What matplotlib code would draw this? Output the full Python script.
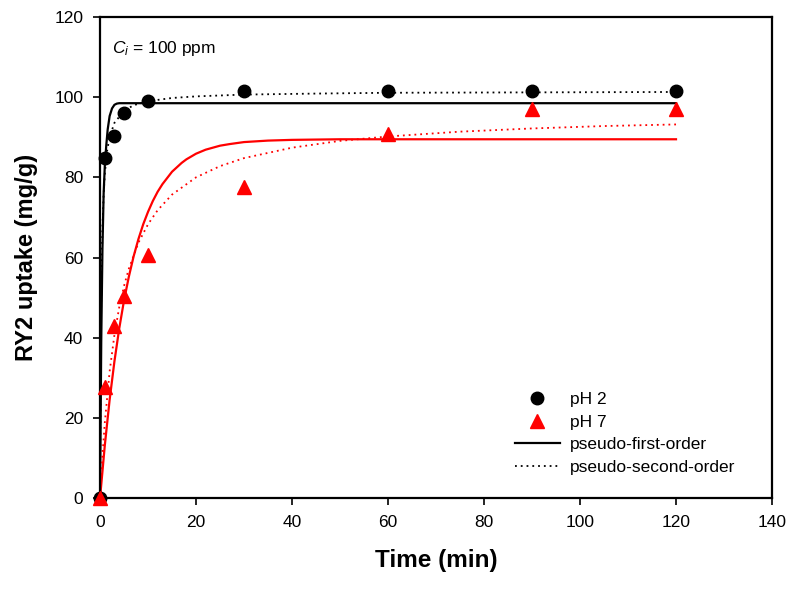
import matplotlib
matplotlib.use("Agg")
import matplotlib.pyplot as plt

plt.rcParams['font.family'] = ['Liberation Sans', 'DejaVu Sans']
plt.rcParams['mathtext.fontset'] = 'custom'
plt.rcParams['mathtext.rm'] = 'Liberation Sans'
plt.rcParams['mathtext.it'] = 'Liberation Sans:italic'

# measured uptake
time = [0, 1, 3, 5, 10, 30, 60, 90, 120]
ph2 = [0, 84.8, 90.3, 96.0, 99.0, 101.5, 101.5, 101.5, 101.5]
ph7 = [0, 27.7, 42.9, 50.4, 60.6, 77.6, 90.8, 97.0, 97.0]

# fitted curves
t_pfo2 = [0, 0.25, 0.5, 0.75, 1, 1.3, 1.6, 2, 2.5, 3, 3.5, 4, 120]
q_pfo2 = [0, 39, 62, 76, 83, 88, 92, 95.3, 97.2, 98.1, 98.4, 98.5, 98.5]

t_pso2 = [0, 0.1, 0.25, 0.5, 0.75, 1, 1.5, 2, 3, 5, 7, 10, 15, 20, 30, 45, 60, 90, 120]
q_pso2 = [0, 28.7, 50.4, 67.3, 75.8, 81.0, 86.8, 90.1, 93.6, 96.6, 98.0, 99.0,
          99.8, 100.2, 100.65, 100.9, 101.1, 101.2, 101.3]

t_pfo7 = [0, 1, 2, 3, 4, 5, 6, 7, 8, 9, 10, 11, 12, 13, 15, 17, 18, 20, 22, 25,
          27, 30, 35, 40, 50, 60, 120]
q_pfo7 = [0, 13.2, 24.5, 34.1, 42.3, 49.3, 55.2, 60.3, 64.6, 68.3, 71.4, 74.1,
          76.4, 78.3, 81.4, 83.6, 84.5, 85.9, 86.9, 87.9, 88.3, 88.8, 89.17,
          89.35, 89.5, 89.5, 89.5]

t_pso7 = [0, 0.25, 0.5, 1, 2, 3, 4, 5, 6, 8, 10, 12, 15, 20, 25, 30, 40, 50, 60,
          75, 90, 105, 120]
q_pso7 = [0, 5.5, 10.5, 18.9, 31.6, 40.7, 47.6, 52.9, 57.2, 63.7, 68.3, 71.8, 75.7,
          80.0, 82.8, 84.8, 87.4, 89.1, 90.2, 91.4, 92.2, 92.8, 93.2]

fig = plt.figure(figsize=(7.99, 5.89), dpi=100)
ax = fig.add_axes([0.1252, 0.1545, 0.841, 0.8166])

dot = (0, (1, 2.2))
ax.plot(t_pfo2, q_pfo2, color='black', lw=1.6, zorder=2)
ax.plot(t_pso2, q_pso2, color='black', lw=1.3, ls=dot, zorder=2)
ax.plot(t_pfo7, q_pfo7, color='red', lw=1.6, zorder=2)
ax.plot(t_pso7, q_pso7, color='red', lw=1.3, ls=dot, zorder=2)

ax.plot(time, ph2, 'o', color='black', ms=9, ls='none', zorder=3, clip_on=False, label='pH 2')
ax.plot(time, ph7, '^', color='red', ms=10, ls='none', zorder=3, clip_on=False, label='pH 7')

# legend proxies for the fit styles
ax.plot([], [], color='black', lw=1.6, label='pseudo-first-order')
ax.plot([], [], color='black', lw=1.3, ls=dot, label='pseudo-second-order')

ax.set_xlim(0, 140)
ax.set_ylim(0, 120)
ax.set_xticks(range(0, 141, 20))
ax.set_yticks(range(0, 121, 20))
ax.tick_params(direction='out', length=5, width=1.2, labelsize=12.5, pad=7)
for s in ax.spines.values():
    s.set_linewidth(1.6)

ax.set_xlabel('Time (min)', fontsize=17.5, fontweight='bold', labelpad=14)
ax.set_ylabel('RY2 uptake (mg/g)', fontsize=17, fontweight='bold', labelpad=12)

ax.text(0.018, 0.955, r'$C_i$ = 100 ppm', transform=ax.transAxes, fontsize=12.5,
        ha='left', va='top')

ax.legend(loc='upper left', bbox_to_anchor=(0.617, 0.22), frameon=False,
          fontsize=12.5, numpoints=1, handlelength=2.6, handletextpad=0.6,
          labelspacing=0.42, borderpad=0, borderaxespad=0)

fig.savefig('out.png', dpi=100)
